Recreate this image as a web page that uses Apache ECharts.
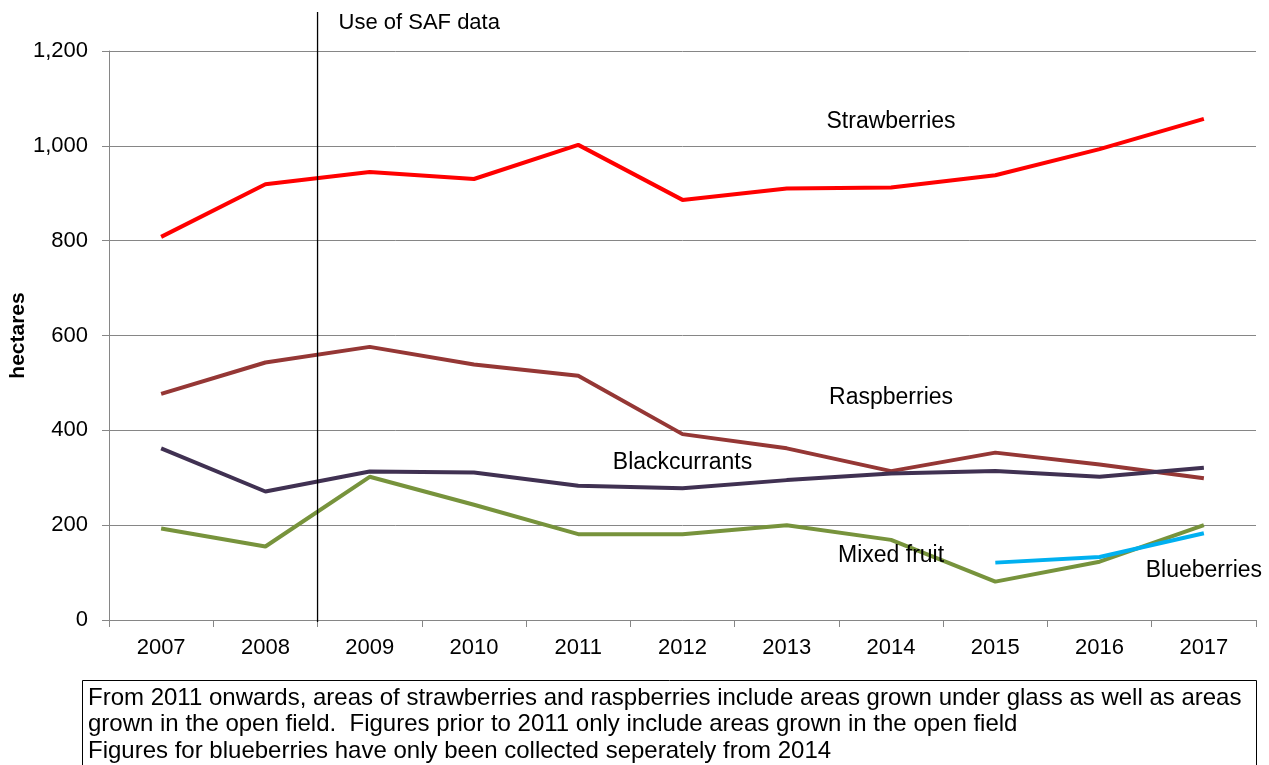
<!DOCTYPE html>
<html>
<head>
<meta charset="utf-8">
<script src="https://cdn.jsdelivr.net/npm/echarts@6/dist/echarts.min.js"></script>
<style>
  html, body { margin: 0; padding: 0; background: #fff; }
  #chart { width: 1269px; height: 765px; }
</style>
</head>
<body>
<div id="chart"></div>
<script>
// data
const years = ['2007', '2008', '2009', '2010', '2011', '2012', '2013', '2014', '2015', '2016', '2017']
const strawberries = [808, 919, 945, 930, 1002, 886, 910, 912, 938, 993, 1057]
const raspberries = [477, 543, 576, 539, 515, 392, 362, 314, 353, 328, 299]
const blackcurrants = [362, 271, 313, 311, 283, 278, 295, 309, 314, 302, 321]
const mixedFruit = [193, 155, 302, 243, 181, 181, 200, 169, 81, 123, 200]
const blueberries = [null, null, null, null, null, null, null, null, 121, 133, 183]

// label anchors: [category index, value]
const seriesLabels = [
  { text: 'Strawberries', at: [6.78, 1050] },
  { text: 'Raspberries', at: [7.21, 468] },
  { text: 'Blackcurrants', at: [5.17, 331] },
  { text: 'Mixed fruit', at: [6.67, 135] },
  { text: 'Blueberries', at: [10.04, 105] }
]
const noteLines = [
  'From 2011 onwards, areas of strawberries and raspberries include areas grown under glass as well as areas',
  'grown in the open field.  Figures prior to 2011 only include areas grown in the open field',
  'Figures for blueberries have only been collected seperately from 2014'
]

const font = 'Liberation Sans, Arial, sans-serif'
const chart = echarts.init(document.getElementById('chart'))

const lineSeries = (name, data, color) => ({
  name,
  type: 'line',
  data,
  symbol: 'none',
  lineStyle: { width: 4, color },
  itemStyle: { color },
  animation: false
})

chart.setOption({
  animation: false,
  grid: { left: 109, right: 13, top: 51, bottom: 145, containLabel: false, outerBoundsMode: 'none' },
  xAxis: {
    type: 'category',
    data: years,
    boundaryGap: true,
    axisLine: { lineStyle: { color: '#868686', width: 1 } },
    axisTick: { show: true, length: 7, lineStyle: { color: '#868686' } },
    axisLabel: { color: '#000', fontSize: 22, fontFamily: font, margin: 17 }
  },
  yAxis: {
    type: 'value',
    min: 0,
    max: 1200,
    interval: 200,
    name: 'hectares',
    nameLocation: 'middle',
    nameGap: 80,
    nameMoveOverlap: false,
    nameTextStyle: { fontWeight: 'bold', fontSize: 21, color: '#000', fontFamily: font },
    axisLine: { show: true, lineStyle: { color: '#868686', width: 1 } },
    axisTick: { show: true, length: 7, lineStyle: { color: '#868686' } },
    splitLine: { lineStyle: { color: '#868686', width: 1 } },
    axisLabel: {
      color: '#000', fontSize: 22, fontFamily: font, margin: 21,
      formatter: v => v.toLocaleString('en-GB')
    }
  },
  series: [
    lineSeries('Strawberries', strawberries, '#FF0000'),
    lineSeries('Raspberries', raspberries, '#953735'),
    lineSeries('Blackcurrants', blackcurrants, '#403152'),
    lineSeries('Mixed fruit', mixedFruit, '#77933C'),
    lineSeries('Blueberries', blueberries, '#00B0F0')
  ]
})

// annotations placed through the chart's own scales
const px = (i, v) => chart.convertToPixel({ xAxisIndex: 0, yAxisIndex: 0 }, [i, v])
const safX = (px(1, 0)[0] + px(2, 0)[0]) / 2
const baseY = px(0, 0)[1]

const graphics = [
  {
    type: 'line',
    shape: { x1: safX, y1: 12, x2: safX, y2: baseY + 2 },
    style: { stroke: '#000', lineWidth: 1.3 },
    z: 10
  },
  {
    type: 'text',
    x: safX + 21,
    y: 23,
    style: { text: 'Use of SAF data', font: '22px ' + font, fill: '#000', verticalAlign: 'middle', textVerticalAlign: 'middle' },
    z: 10
  },
  {
    type: 'rect',
    shape: { x: 82.5, y: 680.5, width: 1174, height: 100 },
    style: { fill: '#fff', stroke: '#000', lineWidth: 1 },
    z: 10
  }
]

seriesLabels.forEach(l => {
  const p = px(l.at[0], l.at[1])
  graphics.push({
    type: 'text',
    x: p[0],
    y: p[1],
    style: {
      text: l.text, font: '23px ' + font, fill: '#000',
      align: 'center', verticalAlign: 'middle', textAlign: 'center', textVerticalAlign: 'middle'
    },
    z: 11
  })
})

noteLines.forEach((t, i) => {
  graphics.push({
    type: 'text',
    x: 88,
    y: 698 + i * 26.5,
    style: { text: t, font: '24px ' + font, fill: '#000', verticalAlign: 'middle', textVerticalAlign: 'middle' },
    z: 11
  })
})

chart.setOption({ graphic: graphics })
</script>
</body>
</html>
